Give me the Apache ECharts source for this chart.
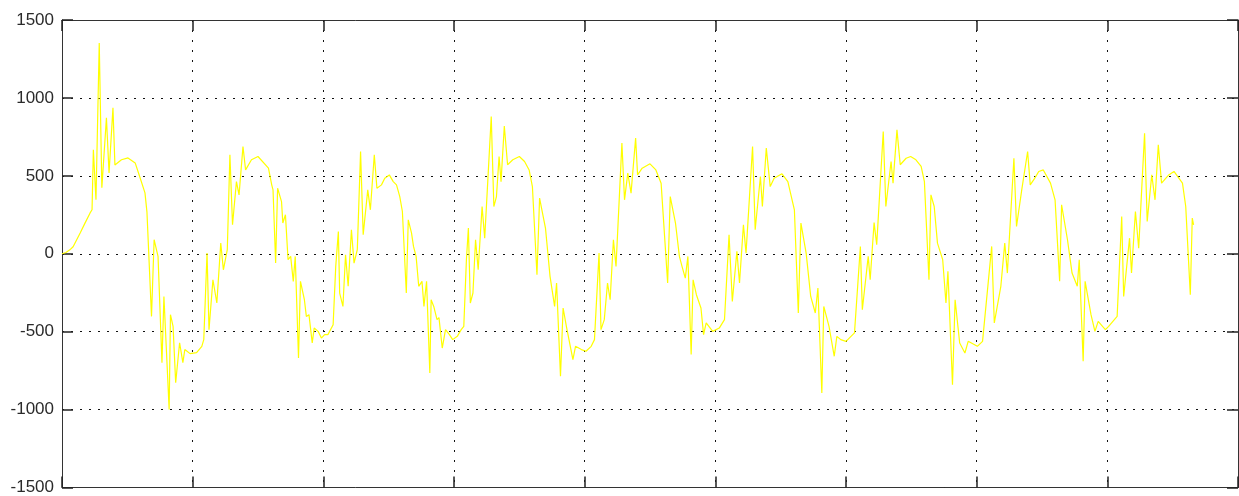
<!DOCTYPE html>
<html>
<head>
<meta charset="utf-8">
<script src="https://cdn.jsdelivr.net/npm/echarts@6/dist/echarts.min.js"></script>
<style>
  html, body { margin: 0; padding: 0; background: #fff; }
  #chart { width: 1239px; height: 496px; }
</style>
</head>
<body>
<div id="chart"></div>
<script>
// time axis in ms (grid every 20 ms)
const timeMs = [
  0.0, 0.6, 1.2, 1.7, 2.8, 3.5, 4.3, 4.6, 4.8, 5.2, 5.7, 6.1, 6.8, 7.2, 7.8, 8.1, 9.1, 10.1, 11.2, 11.9, 12.7, 13.0,
  13.7, 14.1, 14.7, 15.3, 15.6, 16.4, 16.6, 17.0, 17.4, 18.0, 18.5, 18.8, 19.6, 20.6, 21.4, 21.7,
  22.2, 22.5, 23.1, 23.7, 24.3, 24.7, 25.3, 25.7, 26.1, 26.7, 27.1, 27.7, 28.1, 29.0, 30.0, 30.3,
  31.6, 32.1, 32.3, 32.7, 33.0, 33.6, 33.8, 34.2, 34.6, 35.0, 35.4, 35.7, 36.2, 36.5, 37.1, 37.4,
  37.8, 38.3, 38.6, 39.2, 39.7, 40.2, 40.7, 41.5, 41.9, 42.3, 42.5, 43.0, 43.4, 43.8, 44.3, 44.7,
  45.2, 45.7, 46.1, 46.8, 47.2, 47.8, 48.2, 48.9, 49.4, 50.1, 50.7, 51.2, 51.7, 52.1, 52.7, 53.0,
  53.5, 53.8, 54.2, 54.6, 55.1, 55.4, 55.8, 56.3, 56.5, 56.9, 57.4, 57.7, 58.2, 58.7, 59.3, 59.8,
  60.5, 61.1, 61.5, 61.9, 62.2, 62.5, 62.9, 63.3, 63.7, 64.3, 64.7, 65.7, 66.1, 66.5, 66.9, 67.2,
  67.7, 68.2, 69.0, 70.0, 70.8, 71.5, 72.0, 72.7, 73.1, 73.6, 74.0, 74.7, 75.4, 75.7, 76.3, 76.7,
  77.2, 78.2, 78.6, 79.5, 80.2, 81.0, 81.5, 82.2, 82.5, 83.0, 83.5, 83.9, 84.4, 84.8, 85.7, 86.1,
  86.6, 87.1, 87.8, 88.1, 88.8, 90.0, 90.9, 91.7, 92.7, 93.1, 93.9, 94.5, 94.9, 95.4, 95.8, 96.3,
  96.6, 97.1, 97.8, 98.2, 98.6, 99.6, 100.6, 101.4, 102.1, 102.6, 103.3, 103.7, 104.3, 104.7,
  105.7, 106.1, 106.9, 107.2, 107.8, 108.4, 109.0, 110.2, 111.1, 112.1, 112.7, 113.1, 113.9,
  114.6, 115.3, 115.7, 116.3, 116.6, 117.4, 118.2, 118.6, 119.2, 120.0, 121.3, 122.2, 122.5,
  123.4, 123.7, 124.3, 124.7, 125.7, 126.1, 126.9, 127.2, 127.8, 128.3, 129.2, 129.9, 130.7,
  131.5, 132.0, 132.7, 133.0, 133.5, 134.0, 134.8, 135.3, 135.6, 136.3, 136.7, 137.4, 138.2,
  138.7, 140.1, 140.9, 142.3, 142.7, 143.7, 144.3, 144.7, 145.7, 146.1, 146.9, 147.8, 148.2,
  148.9, 149.5, 150.2, 151.3, 152.0, 152.7, 153.0, 153.9, 154.6, 155.4, 155.7, 156.3, 156.6,
  157.5, 158.1, 158.6, 159.7, 160.2, 161.5, 162.2, 162.5, 163.4, 163.7, 164.3, 164.8, 165.7,
  166.1, 166.8, 167.3, 167.8, 168.3, 169.4, 170.2, 171.5, 172.0, 172.7, 173.0, 173.2
];
const current = [
  0, 8, 25, 45, 135, 195, 262, 282, 667, 346, 1352, 423, 872, 519, 936, 570, 603, 615, 583, 494, 391, 269,
  -402, 90, -17, -699, -274, -1000, -391, -466, -827, -571, -699, -615, -641, -635, -594, -551,
  4, -487, -167, -316, 68, -103, 26, 635, 186, 463, 378, 688, 538, 603, 624, 613,
  549, 442, 410, -60, 421, 335, 197, 250, -38, -17, -177, -17, -669, -177, -295, -402,
  -391, -573, -477, -498, -541, -519, -519, -455, -81, 143, -252, -338, -6, -209, 154, -60,
  26, 656, 122, 410, 282, 635, 421, 442, 485, 506, 463, 442, 367, 271, -252, 218,
  132, 47, -17, -209, -177, -338, -177, -765, -295, -338, -423, -410, -605, -487, -519, -551,
  -530, -487, -466, -38, 165, -316, -252, 90, -103, 303, 100, 880, 303, 367, 624, 463,
  820, 571, 603, 624, 592, 538, 431, -135, 357, 250, 165, -145, -338, -188, -786, -348,
  -466, -679, -594, -615, -626, -594, -551, 4, -487, -423, -188, -295, 90, -81, 710, 346,
  517, 389, 742, 506, 549, 577, 538, 453, -188, 367, 197, -17, -81, -156, -17, -647,
  -167, -263, -348, -519, -444, -498, -477, -423, 122, -306, 15, -188, 186, 4,
  688, 154, 496, 303, 678, 431, 485, 513, 463, 282, -380, 197, 4,
  -274, -380, -220, -893, -338, -466, -658, -530, -551, -562, -508, 47, -359,
  -17, -167, 200, 58, 784, 303, 592, 453, 795, 571, 613, 624, 603,
  560, 463, -167, 378, 303, 68, -38, -316, -113, -840, -295, -573, -637,
  -562, -594, -562, 47, -444, -209, 68, -124, 613, 175, 410, 656, 442,
  485, 528, 538, 453, 346, -177, 314, 90, -124, -209, -38, -690, -177,
  -391, -498, -434, -487, -466, -402, 239, -274, 100, -124, 271, 36, 773,
  207, 506, 346, 699, 453, 506, 528, 453, 303, -263, 229, 186
];
const yTicks = [-1500, -1000, -500, 0, 500, 1000, 1500];

const points = timeMs.map((t, i) => [t, current[i]]);

const chart = echarts.init(document.getElementById('chart'));

// matlab-like box: every side gets its own axis, ticks pointing in
function boxLine() {
  return { show: true, onZero: false, lineStyle: { color: '#333', width: 1 } };
}
function innerTick() {
  return { show: true, inside: true, length: 11, lineStyle: { color: '#222', width: 1.5 } };
}

chart.setOption({
  animation: false,
  backgroundColor: '#fff',
  grid: { left: 62, right: 1, top: 20, bottom: 8 },
  xAxis: [
    {
      type: 'value', min: 0, max: 180, interval: 20, position: 'bottom',
      axisLine: boxLine(), axisTick: innerTick(), axisLabel: { show: false },
      splitLine: { show: true, lineStyle: { color: '#111', width: 1, type: [2, 8] } }
    },
    {
      type: 'value', min: 0, max: 180, interval: 20, position: 'top',
      axisLine: boxLine(), axisTick: innerTick(), axisLabel: { show: false }, splitLine: { show: false }
    }
  ],
  yAxis: [
    {
      type: 'value', min: yTicks[0], max: yTicks[yTicks.length - 1], interval: 500, position: 'left',
      axisLine: boxLine(), axisTick: innerTick(),
      splitLine: { show: true, lineStyle: { color: '#111', width: 1, type: [2, 7] } },
      axisLabel: {
        show: true, margin: 8, color: '#2a2a2a', fontSize: 17,
        fontFamily: 'Liberation Sans, Arial, sans-serif',
        formatter: (v) => String(v)
      }
    },
    {
      type: 'value', min: yTicks[0], max: yTicks[yTicks.length - 1], interval: 500, position: 'right',
      axisLine: boxLine(), axisTick: innerTick(), axisLabel: { show: false }, splitLine: { show: false }
    }
  ],
  series: [
    {
      type: 'line',
      data: points,
      xAxisIndex: 0,
      yAxisIndex: 0,
      showSymbol: false,
      lineStyle: { color: '#ffff00', width: 1.2 }
    }
  ]
});
</script>
</body>
</html>
